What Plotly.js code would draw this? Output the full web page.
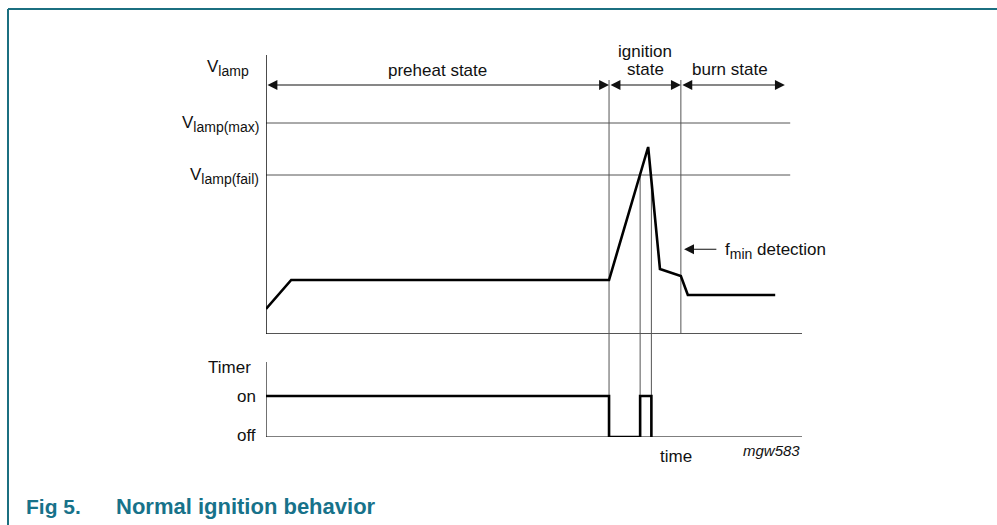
<!DOCTYPE html>
<html>
<head>
<meta charset="utf-8">
<script src="https://cdn.plot.ly/plotly-3.0.1.min.js"></script>
<style>html,body{margin:0;padding:0;background:#fff;}#chart{width:997px;height:525px;}</style>
</head>
<body>
<div id="chart"></div>
<script>
// ---- data (arbitrary time units / lamp voltage units) ----
const lampTime = [0, 4.7, 64, 71.3, 73.5, 77.4, 78.7, 95];
const lampVolt = [2.5, 5.4, 5.4, 18.7, 6.5, 5.8, 3.9, 3.9];
const timerTime = [0, 64, 64, 69.8, 69.8, 71.9, 71.9];
const timerState = [1, 1, 0, 0, 1, 1, 0];
const vLampMax = 21.1;
const vLampFail = 15.9;
const stateBounds = [0, 64, 77.4, 96.8];
const stateNames = ['preheat state', 'ignition', 'burn state'];
const failCrossings = [69.8, 71.9];
const fminTime = 77.4;
const timeEnd = 100;
const thresholdEnd = 97.8;
const vAxisTop = 27.9;
const arrowLevel = 24.9;
const markerTop = 25.4;
const timerAxisTop = 1.83;
const timerTop = 2.512;
const fminLevel = 8.47;

const thin = {color: '#555', width: 1};
const traces = [];
function seg(xs, ys, line, yaxis) {
  traces.push({x: xs, y: ys, mode: 'lines', line: line, yaxis: yaxis || 'y', hoverinfo: 'skip', showlegend: false});
}
// threshold lines
seg([0, thresholdEnd], [vLampMax, vLampMax], thin);
seg([0, thresholdEnd], [vLampFail, vLampFail], thin);
// upper axes
seg([0, timeEnd], [0, 0], {color: '#555', width: 2});
seg([0, 0], [0, vAxisTop], {color: '#111', width: 1.5});
// lower axes
seg([0, timeEnd], [0, 0], {color: '#555', width: 1.5}, 'y2');
seg([0, 0], [0, timerAxisTop], {color: '#111', width: 1.2}, 'y2');
// state boundary markers
seg([stateBounds[1], stateBounds[1]], [0, markerTop], thin);
seg([stateBounds[1], stateBounds[1]], [0, timerTop], thin, 'y2');
seg([fminTime, fminTime], [0, markerTop], thin);
failCrossings.forEach(t => {
  seg([t, t], [0, vLampFail], thin);
  seg([t, t], [1, timerTop], thin, 'y2');
});
// lamp voltage curve
traces.push({x: lampTime, y: lampVolt, mode: 'lines', line: {color: '#000', width: 2.6}, hoverinfo: 'skip', showlegend: false});
// timer
traces.push({x: timerTime, y: timerState, mode: 'lines', line: {color: '#000', width: 2.6}, yaxis: 'y2', hoverinfo: 'skip', showlegend: false});

const F = 'Liberation Sans, Arial, sans-serif';
const txt = (t, x, y, xa, opts) => Object.assign({text: t, x: x, y: y, xref: 'x', yref: 'y', xanchor: xa || 'center', yanchor: 'middle', showarrow: false, font: {family: F, size: 17, color: '#111'}}, opts || {});
const sub = s => '<sub><span style="font-size:14px">' + s + '</span></sub>';

const ann = [];
// state arrows
for (let i = 0; i < 3; i++) {
  ann.push({x: stateBounds[i + 1], y: arrowLevel, ax: stateBounds[i], ay: arrowLevel, xref: 'x', yref: 'y', axref: 'x', ayref: 'y',
    text: '', showarrow: true, arrowside: 'end+start', arrowhead: 2, arrowsize: 1.8, arrowwidth: 1.1, arrowcolor: '#111', standoff: 0, startstandoff: 0});
}
ann.push(txt(stateNames[0], 32, 26.4));
ann.push(txt(stateNames[1], 70.8, 28.3));
ann.push(txt('state', 70.8, 26.5));
ann.push(txt(stateNames[2], 86.6, 26.5));
// fmin
ann.push({x: fminTime + 0.6, y: fminLevel, ax: 84.3, ay: fminLevel, xref: 'x', yref: 'y', axref: 'x', ayref: 'y',
  text: '', showarrow: true, arrowhead: 2, arrowsize: 1.8, arrowwidth: 1.1, arrowcolor: '#111', standoff: 0});
ann.push(txt('f' + sub('min') + ' detection', 85.2, fminLevel - 0.2, 'left'));
// y labels (paper x so they are not clipped by the x range)
const px = v => v / 997;
ann.push(txt('V' + sub('lamp'), px(251), 26.6, 'right', {xref: 'paper'}));
ann.push(txt('V' + sub('lamp(max)'), px(261), vLampMax - 0.1, 'right', {xref: 'paper'}));
ann.push(txt('V' + sub('lamp(fail)'), px(261), vLampFail - 0.1, 'right', {xref: 'paper'}));
ann.push(txt('Timer', px(253), 1.7, 'right', {xref: 'paper', yref: 'y2'}));
ann.push(txt('on', px(258), 1.0, 'right', {xref: 'paper', yref: 'y2'}));
ann.push(txt('off', px(258), 0.03, 'right', {xref: 'paper', yref: 'y2'}));
ann.push(txt('time', 76.5, 1 - 456 / 525, 'center', {yref: 'paper'}));
ann.push(txt('<i>mgw583</i>', timeEnd, 1 - 450 / 525, 'right', {yref: 'paper', font: {family: F, size: 15, color: '#111'}}));
// caption
const teal = '#17728a';
ann.push({text: '<b>Fig 5.</b>', x: px(24), y: 1 - 506 / 525, xref: 'paper', yref: 'paper', xanchor: 'left', yanchor: 'middle', showarrow: false, font: {family: F, size: 21, color: teal}});
ann.push({text: '<b>Normal ignition behavior</b>', x: px(114), y: 1 - 506 / 525, xref: 'paper', yref: 'paper', xanchor: 'left', yanchor: 'middle', showarrow: false, font: {family: F, size: 22, color: teal}});

const layout = {
  width: 997, height: 525, autosize: false,
  margin: {l: 0, r: 0, t: 0, b: 0},
  paper_bgcolor: '#fff', plot_bgcolor: 'rgba(0,0,0,0)',
  xaxis: {domain: [266 / 997, 802 / 997], range: [0, timeEnd], visible: false, fixedrange: true},
  yaxis: {domain: [1 - 334 / 525, 1], range: [0, 33.4], visible: false, fixedrange: true},
  yaxis2: {domain: [1 - 437 / 525, 1 - 334 / 525], range: [0, timerTop], visible: false, anchor: 'x', fixedrange: true},
  annotations: ann,
  shapes: [
    {type: 'line', xref: 'paper', yref: 'paper', x0: 8 / 997, x1: 1, y0: 1 - 9 / 525, y1: 1 - 9 / 525, line: {color: '#1b6f80', width: 2}},
    {type: 'line', xref: 'paper', yref: 'paper', x0: 8 / 997, x1: 8 / 997, y0: 1 - 9 / 525, y1: 0, line: {color: '#1b6f80', width: 2}}
  ]
};
Plotly.newPlot('chart', traces, layout, {staticPlot: true, displayModeBar: false});
</script>
</body>
</html>
